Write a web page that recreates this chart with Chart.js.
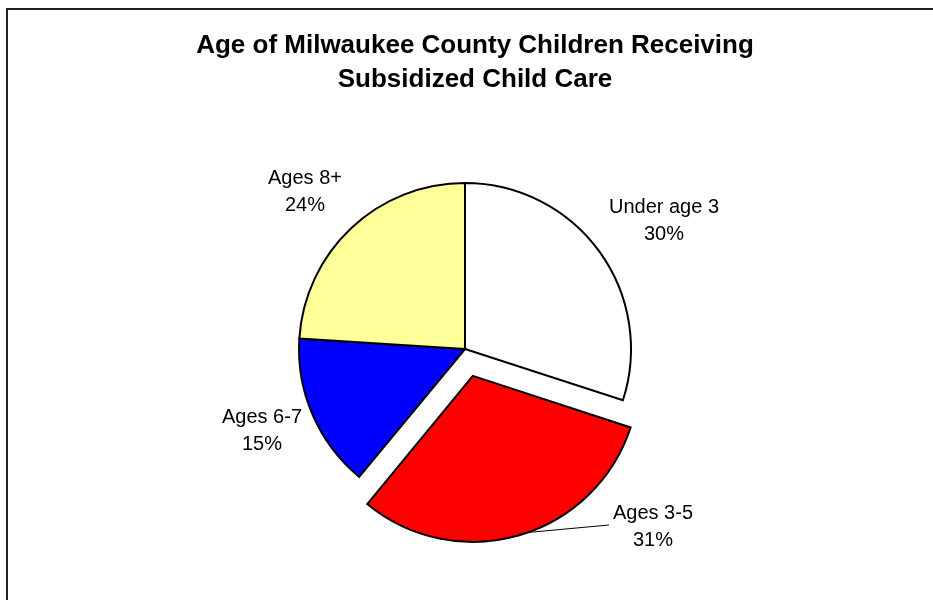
<!DOCTYPE html>
<html>
<head>
<meta charset="utf-8">
<title>Age of Milwaukee County Children Receiving Subsidized Child Care</title>
<script src="https://cdn.jsdelivr.net/npm/chart.js@4.4.1/dist/chart.umd.min.js"></script>
<style>
  html, body { margin: 0; padding: 0; background: #fff; }
  #wrap { position: relative; width: 933px; height: 600px; }
</style>
</head>
<body>
<div id="wrap"><canvas id="age-chart"></canvas></div>
<script>
const categories = ['Under age 3', 'Ages 3-5', 'Ages 6-7', 'Ages 8+'];
const shares = [30, 31, 15, 24];
const titleLines = ['Age of Milwaukee County Children Receiving', 'Subsidized Child Care'];

const FONT = '"Liberation Sans", Arial, Helvetica, sans-serif';

// label spots, relative to the pie centre (first line baseline)
const labelSpots = [[199, -136], [188, 170], [-203, 74], [-160, -165]];

const piePlugin = {
  id: 'piePlugin',
  afterDatasetsUpdate(chart) {
    // chart.js grows an offset arc a little, keep it the same size as the others
    chart.getDatasetMeta(0).data.forEach(function (el) {
      const off = (el.options.offset || 0) / 4;
      const fix = 1 - Math.sin(Math.min(Math.PI, el.circumference));
      el.outerRadius -= off * fix;
    });
  },
  afterDraw(chart) {
    const ctx = chart.ctx;
    const meta = chart.getDatasetMeta(0);
    const cx = meta.data[0].x;
    const cy = meta.data[0].y;

    ctx.save();

    // frame
    ctx.strokeStyle = '#222';
    ctx.lineWidth = 2;
    ctx.beginPath();
    ctx.moveTo(7, chart.height);
    ctx.lineTo(7, 9);
    ctx.lineTo(chart.width, 9);
    ctx.stroke();

    // title
    ctx.fillStyle = '#000';
    ctx.textAlign = 'center';
    ctx.textBaseline = 'alphabetic';
    ctx.font = 'bold 26px ' + FONT;
    ctx.fillText(titleLines[0], 475, 53);
    ctx.fillText(titleLines[1], 475, 87);

    // slice labels
    ctx.font = '20px ' + FONT;
    for (let i = 0; i < categories.length; i++) {
      const x = cx + labelSpots[i][0];
      const y = cy + labelSpots[i][1];
      ctx.fillText(categories[i], x, y);
      ctx.fillText(shares[i] + '%', x, y + 27);
    }

    // leader line for the exploded slice
    const el = meta.data[1];
    const mid = (el.startAngle + el.endAngle) / 2;
    const off = (el.options.offset || 0) / 4;
    const ex = el.x + Math.cos(mid) * off;
    const ey = el.y + Math.sin(mid) * off;
    const a = 72 * Math.PI / 180;
    const r = el.outerRadius + 1;
    const w = ctx.measureText(categories[1]).width;
    ctx.strokeStyle = '#000';
    ctx.lineWidth = 1;
    ctx.beginPath();
    ctx.moveTo(cx + labelSpots[1][0] - w / 2 - 4, cy + labelSpots[1][1] + 6);
    ctx.lineTo(ex + Math.cos(a) * r, ey + Math.sin(a) * r);
    ctx.stroke();

    ctx.restore();
  }
};

const ctxAge = document.getElementById('age-chart');

const config = {
  type: 'pie',
  data: {
    labels: categories,
    datasets: [{
      data: shares,
      backgroundColor: ['#FFFFFF', '#FF0000', '#0000FF', '#FFFF99'],
      borderColor: '#000000',
      borderWidth: 2,
      borderJoinStyle: 'miter',
      offset: [0, 112, 0, 0]
    }]
  },
  options: {
    responsive: true,
    maintainAspectRatio: false,
    animation: false,
    events: [],
    radius: 166,
    layout: {
      padding: { top: 150, bottom: 52, left: 100, right: 103 }
    },
    plugins: {
      legend: { display: false },
      tooltip: { enabled: false },
      title: { display: false }
    }
  },
  plugins: [piePlugin]
};

new Chart(ctxAge, config);
</script>
</body>
</html>
